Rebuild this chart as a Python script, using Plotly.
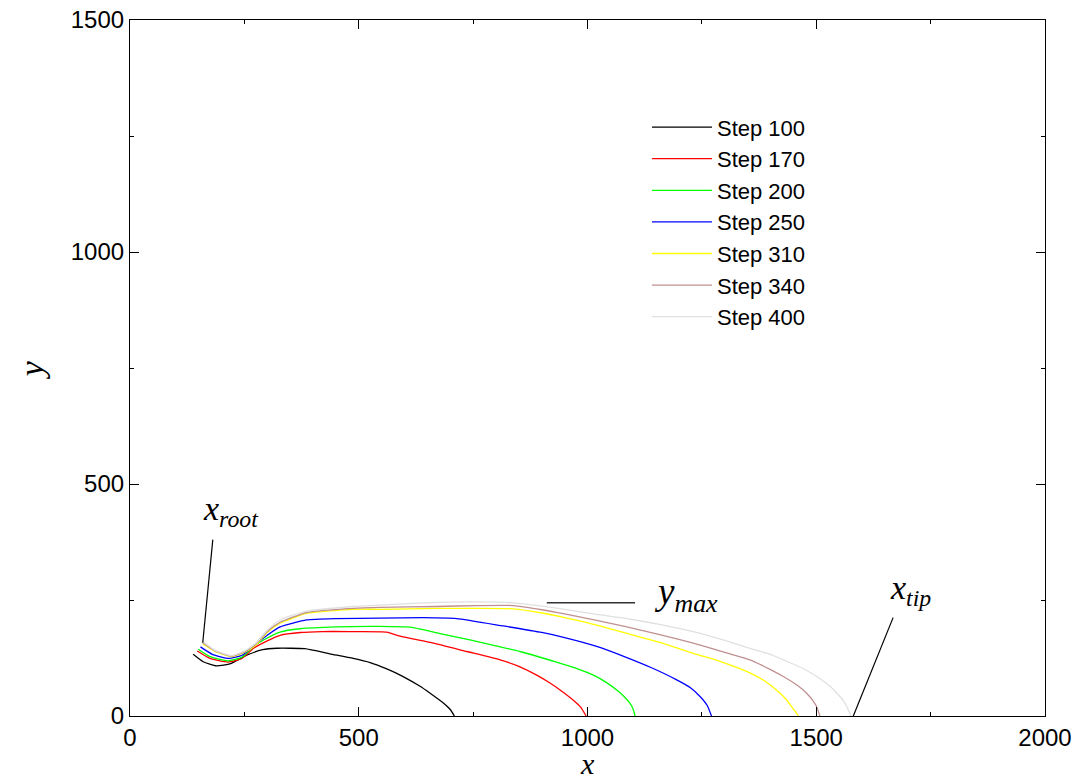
import plotly.graph_objects as go

# ---- data ----
step_labels = ["Step 100", "Step 170", "Step 200", "Step 250", "Step 310", "Step 340", "Step 400"]

black_x = [138, 160, 189, 220, 255, 290, 321, 382, 437, 488, 525, 560, 597, 634, 656, 685, 700, 709]
black_y = [133, 117, 108, 113, 131, 143, 146, 145, 134, 124, 115, 102, 85, 64, 49, 28, 14, 0]

red_x = [147, 175, 214, 245, 270, 300, 328, 372, 420, 480, 561, 590, 663, 736, 809, 850, 889, 918, 940, 969, 985, 997]
red_y = [140, 124, 116, 124, 146, 162, 174, 180, 182, 182, 181, 172, 157, 139, 121, 107, 88, 71, 56, 34, 19, 0]

green_x = [149, 175, 214, 245, 270, 300, 328, 372, 450, 546, 616, 680, 743, 800, 852, 932, 980, 1013, 1040, 1064, 1080, 1093, 1100, 1104]
green_y = [144, 128, 119, 127, 150, 168, 181, 188, 192, 193, 191, 177, 164, 151, 139, 116, 101, 88, 73, 56, 42, 27, 14, 0]

blue_x = [154, 180, 216, 245, 270, 300, 328, 386, 450, 546, 640, 714, 816, 900, 950, 1020, 1086, 1140, 1195, 1225, 1246, 1262, 1271]
blue_y = [149, 133, 124, 131, 151, 174, 192, 207, 210, 211, 212, 210, 194, 180, 169, 150, 126, 104, 78, 61, 42, 22, 0]

yellow_x = [159, 185, 222, 250, 275, 300, 328, 386, 488, 546, 670, 760, 838, 900, 950, 1020, 1086, 1160, 1231, 1280, 1320, 1355, 1385, 1413, 1435, 1446, 1455, 1461]
yellow_y = [156, 140, 128, 137, 153, 180, 200, 221, 230, 230, 232, 232, 231, 222, 212, 196, 178, 158, 135, 121, 107, 93, 77, 56, 35, 20, 9, 0]

brown_x = [159, 185, 222, 250, 275, 300, 328, 386, 488, 546, 670, 760, 838, 900, 950, 1020, 1086, 1160, 1231, 1300, 1355, 1400, 1428, 1460, 1479, 1495, 1501, 1508]
brown_y = [158, 141, 129, 138, 155, 182, 202, 223, 232, 234, 236, 238, 238, 229, 220, 206, 192, 175, 157, 137, 121, 100, 85, 65, 49, 30, 20, 0]

grey_x = [160, 185, 222, 250, 275, 300, 328, 386, 488, 546, 670, 760, 838, 900, 950, 1020, 1086, 1160, 1231, 1300, 1355, 1400, 1428, 1470, 1501, 1530, 1545, 1560, 1567, 1576]
grey_y = [160, 142, 130, 140, 157, 185, 207, 226, 236, 239, 245, 246, 244, 237, 230, 219, 210, 197, 182, 163, 146, 133, 121, 103, 85, 64, 49, 32, 20, 0]

series_x = [black_x, red_x, green_x, blue_x, yellow_x, brown_x, grey_x]
series_y = [black_y, red_y, green_y, blue_y, yellow_y, brown_y, grey_y]
colors = ["#000000", "#ff0000", "#00ff00", "#0000ff", "#ffff00", "#c09090", "#e0e0e0"]

# annotation leader lines (data coordinates)
root_line_x = [159, 181]
root_line_y = [158, 380]
ymax_line_x = [911, 1104]
ymax_line_y = [244, 244]
tip_line_x = [1581, 1668]
tip_line_y = [0, 212]

x_ticks = [0, 500, 1000, 1500, 2000]
y_ticks = [0, 500, 1000, 1500]

fig = go.Figure()
for name, xs, ys, c in zip(step_labels, series_x, series_y, colors):
    fig.add_trace(go.Scatter(x=xs, y=ys, mode="lines", name=name,
                             line=dict(color=c, width=1.3, shape="spline", smoothing=0.5)))

for lx, ly, col, w in [(root_line_x, root_line_y, "#000000", 1.2),
                       (ymax_line_x, ymax_line_y, "#333333", 1.6),
                       (tip_line_x, tip_line_y, "#000000", 1.2)]:
    fig.add_trace(go.Scatter(x=lx, y=ly, mode="lines", showlegend=False,
                             hoverinfo="skip", line=dict(color=col, width=w)))

serif = "Liberation Serif, Times New Roman, serif"
ann_font = dict(family=serif, size=34, color="black")
fig.add_annotation(x=155, y=442, xref="x", yref="y", text="<i>x<sub>root</sub></i>",
                   showarrow=False, xanchor="left", yanchor="middle", font=ann_font)
fig.add_annotation(x=1141, y=262, xref="x", yref="y", text="<i>y<sub>max</sub></i>",
                   showarrow=False, xanchor="left", yanchor="middle",
                   font=dict(family=serif, size=37, color="black"))
fig.add_annotation(x=1657, y=272, xref="x", yref="y", text="<i>x<sub>tip</sub></i>",
                   showarrow=False, xanchor="left", yanchor="middle", font=ann_font)

# axis titles as paper-anchored text
fig.add_annotation(x=0.5, y=-0.0945, xref="paper", yref="paper", text="<i>x</i>",
                   showarrow=False, xanchor="center", yanchor="bottom",
                   font=dict(family=serif, size=30, color="black"))
fig.add_annotation(x=-0.108, y=0.497, xref="paper", yref="paper", text="<i>y</i>",
                   showarrow=False, xanchor="center", yanchor="middle", textangle=-90,
                   font=dict(family=serif, size=34, color="black"))

axis_common = dict(showgrid=False, zeroline=False, showline=True, linecolor="black",
                   linewidth=1.2, mirror="ticks", ticks="inside", ticklen=9,
                   tickcolor="black", tickwidth=1, automargin=False,
                   tickfont=dict(family="Liberation Sans, Arial, sans-serif", size=24, color="black"),
                   minor=dict(dtick=250, ticks="inside", ticklen=4, tickcolor="black", tickwidth=1))

fig.update_xaxes(range=[0, 2000], tickvals=x_ticks, **axis_common)
fig.update_yaxes(range=[0, 1500], tickvals=y_ticks, **axis_common)

fig.update_layout(
    width=1074, height=782,
    margin=dict(l=130, r=29, t=20, b=66),
    plot_bgcolor="white", paper_bgcolor="white",
    showlegend=True,
    legend=dict(x=0.565, y=0.876, xanchor="left", yanchor="top",
                bgcolor="rgba(0,0,0,0)", borderwidth=0,
                font=dict(family="Liberation Sans, Arial, sans-serif", size=22, color="black"),
                itemwidth=60, tracegroupgap=0),
)

fig.write_html("out.html")
